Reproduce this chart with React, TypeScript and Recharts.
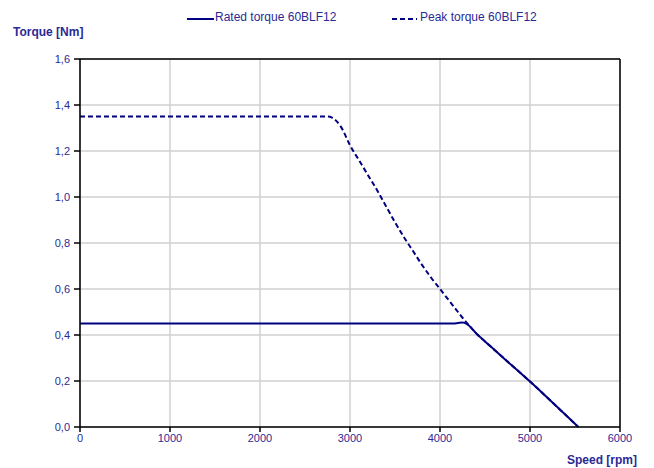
import React from "react";
import { LineChart, Line, XAxis, YAxis, CartesianGrid, ReferenceLine } from "recharts";

const speeds = [0, 1000, 2000, 2750, 2800, 2850, 2900, 3000, 3100, 3200, 3300, 3400, 3500, 3600, 3700, 3800, 3900, 4000, 4100, 4150, 4200, 4250, 4300, 4350, 4400, 4500, 4600, 4700, 4800, 4900, 5000, 5100, 5200, 5300, 5400, 5537];
const rated = [0.45, 0.45, 0.45, 0.45, 0.45, 0.45, 0.45, 0.45, 0.45, 0.45, 0.45, 0.45, 0.45, 0.45, 0.45, 0.45, 0.45, 0.45, 0.45, 0.45, 0.452, 0.454, 0.447, 0.43, 0.408, 0.372, 0.337, 0.302, 0.267, 0.233, 0.198, 0.162, 0.125, 0.088, 0.051, 0];
const peak = [1.35, 1.35, 1.35, 1.35, 1.345, 1.33, 1.305, 1.225, 1.16, 1.095, 1.03, 0.96, 0.89, 0.825, 0.765, 0.705, 0.65, 0.6, 0.55, 0.525, 0.5, 0.475, 0.452, 0.43, 0.408, 0.372, 0.337, 0.302, 0.267, 0.233, 0.198, 0.162, 0.125, 0.088, 0.051, 0];
const xTicks = [0, 1000, 2000, 3000, 4000, 5000, 6000];
const yTicks = [0, 0.2, 0.4, 0.6, 0.8, 1.0, 1.2, 1.4, 1.6];

const data = speeds.map((s, i) => ({ speed: s, rated: rated[i], peak: peak[i] }));

const NAVY = "#000080";
const TEXT = "#2a2a95";
const FONT = "'Liberation Sans', Arial, sans-serif";

export default function App() {
  return (
    <div style={{ position: "absolute", left: 0, top: 0, width: 654, height: 468, background: "#fff", fontFamily: FONT }}>
      <LineChart width={654} height={468} data={data} margin={{ top: 59, right: 34, left: 30, bottom: 21 }}>
        <CartesianGrid stroke="#d0d0d0" strokeWidth={1.5} />
        <XAxis
          dataKey="speed"
          type="number"
          domain={[0, 6000]}
          ticks={xTicks}
          height={20}
          stroke="#000"
          strokeWidth={1.5}
          tickSize={5}
          tick={{ fill: TEXT, fontSize: 11, fontFamily: FONT }}
        />
        <YAxis
          type="number"
          domain={[0, 1.6]}
          ticks={yTicks}
          width={50}
          stroke="#000"
          strokeWidth={1.5}
          tickSize={6}
          tickMargin={4}
          tickFormatter={(v: number) => v.toFixed(1).replace(".", ",")}
          tick={{ fill: TEXT, fontSize: 11, fontFamily: FONT }}
        />
        <ReferenceLine y={1.6} stroke="#000" strokeWidth={1.5} />
        <ReferenceLine x={6000} stroke="#000" strokeWidth={1.5} />
        <Line type="monotone" dataKey="peak" stroke={NAVY} strokeWidth={2} strokeDasharray="5 3" dot={false} isAnimationActive={false} />
        <Line type="monotone" dataKey="rated" stroke={NAVY} strokeWidth={2} dot={false} isAnimationActive={false} />
      </LineChart>
      <div style={{ position: "absolute", left: 0, top: 9, width: 654, height: 20, fontSize: 12, color: TEXT, fontFamily: FONT }}>
        <svg width={30} height={10} style={{ position: "absolute", left: 187, top: 5 }}>
          <line x1={0} y1={5} x2={27} y2={5} stroke={NAVY} strokeWidth={2} />
        </svg>
        <span style={{ position: "absolute", left: 215, top: 1, whiteSpace: "nowrap" }}>Rated torque 60BLF12</span>
        <svg width={30} height={10} style={{ position: "absolute", left: 392, top: 5 }}>
          <line x1={0} y1={5} x2={25} y2={5} stroke={NAVY} strokeWidth={2} strokeDasharray="5 3" />
        </svg>
        <span style={{ position: "absolute", left: 420, top: 1, whiteSpace: "nowrap" }}>Peak torque 60BLF12</span>
      </div>
      <div style={{ position: "absolute", left: 13, top: 25, fontSize: 12, fontWeight: "bold", color: TEXT, fontFamily: FONT }}>Torque [Nm]</div>
      <div style={{ position: "absolute", right: 17, top: 453, fontSize: 12, fontWeight: "bold", color: TEXT, fontFamily: FONT }}>Speed [rpm]</div>
    </div>
  );
}
